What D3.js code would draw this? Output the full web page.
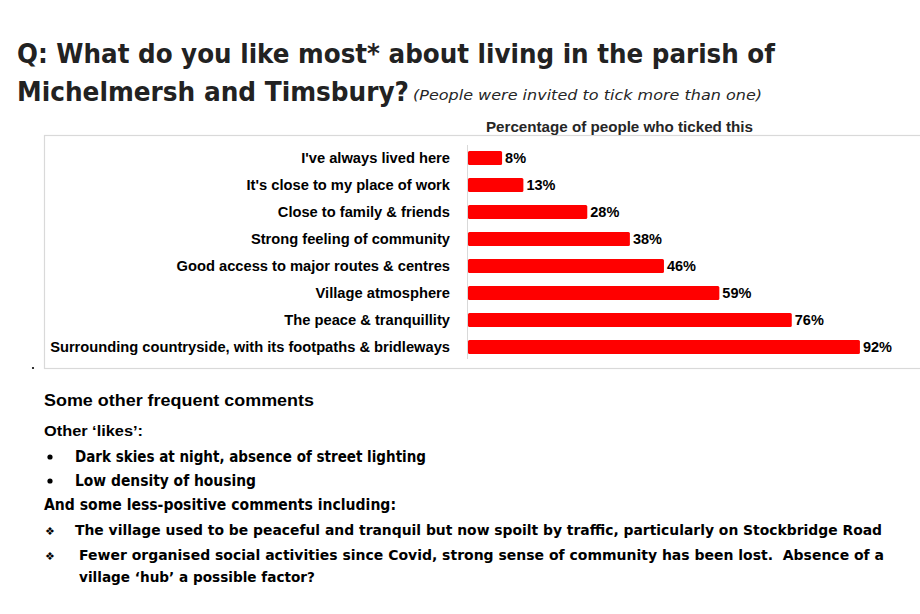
<!DOCTYPE html>
<html>
<head>
<meta charset="utf-8">
<script src="https://cdn.jsdelivr.net/npm/d3@7"></script>
<style>
  body { margin: 0; background: #fff; }
  svg { display: block; }
</style>
</head>
<body>
<svg id="chart" width="920" height="614"></svg>
<script>
// chart data
var categories = [
  "I've always lived here",
  "It's close to my place of work",
  "Close to family & friends",
  "Strong feeling of community",
  "Good access to major routes & centres",
  "Village atmosphere",
  "The peace & tranquillity",
  "Surrounding countryside, with its footpaths & bridleways"
];
var values = [8, 13, 28, 38, 46, 59, 76, 92];

var titleLines = [
  "Q: What do you like most* about living in the parish of",
  "Michelmersh and Timsbury?"
];
var subtitle = "(People were invited to tick more than one)";
var axisTitle = "Percentage of people who ticked this";

var commentHead = "Some other frequent comments";
var likesHead = "Other \u2018likes\u2019:";
var likes = ["Dark skies at night, absence of street lighting", "Low density of housing"];
var negHead = "And some less-positive comments including:";
var negatives = [
  ["The village used to be peaceful and tranquil but now spoilt by traffic, particularly on Stockbridge Road"],
  ["Fewer organised social activities since Covid, strong sense of community has been lost.\u00a0 Absence of a",
   "village \u2018hub\u2019 a possible factor?"]
];

function init() {
  var svg = d3.select('#chart');
  var gothic = "'DejaVu Sans', sans-serif";
  var arial = "'Liberation Sans', Arial, sans-serif";

  // fit a text element to a given width
  function fit(sel, w) {
    sel.attr('textLength', w).attr('lengthAdjust', 'spacingAndGlyphs');
  }

  // title
  var t1 = svg.append('text').attr('x', 17).attr('y', 63)
    .attr('font-family', gothic).attr('font-weight', 'bold').attr('font-size', 27)
    .attr('fill', '#222').text(titleLines[0]);
  fit(t1, 758);
  var t2 = svg.append('text').attr('x', 17).attr('y', 101)
    .attr('font-family', gothic).attr('font-weight', 'bold').attr('font-size', 27)
    .attr('fill', '#222').text(titleLines[1]);
  fit(t2, 392);
  var st = svg.append('text').attr('x', 413).attr('y', 100)
    .attr('font-family', gothic).attr('font-style', 'italic').attr('font-size', 14)
    .attr('fill', '#262626').text(subtitle);
  fit(st, 349);

  // chart frame
  svg.append('rect').attr('x', 44.5).attr('y', 135.5).attr('width', 890).attr('height', 233)
    .attr('fill', 'none').attr('stroke', '#d9d9d9').attr('stroke-width', 1.2);

  var at = svg.append('text').attr('x', 486).attr('y', 132)
    .attr('font-family', arial).attr('font-weight', 'bold').attr('font-size', 14)
    .attr('fill', '#262626').text(axisTitle);
  fit(at, 267);

  var xs = d3.scaleLinear().domain([0, 100]).range([468, 894]);
  var ys = d3.scaleBand().domain(categories).range([144.5, 360.5])
    .paddingInner(0.48).paddingOuter(0.24);

  // axis line
  svg.append('line').attr('x1', 467.5).attr('x2', 467.5).attr('y1', 145).attr('y2', 359)
    .attr('stroke', '#d9d9d9').attr('stroke-width', 1);

  var rows = svg.append('g').selectAll('g').data(categories).enter().append('g');

  rows.append('text')
    .attr('x', 450)
    .attr('y', function(d) { return ys(d) + ys.bandwidth() / 2 + 5; })
    .attr('text-anchor', 'end')
    .attr('font-family', arial).attr('font-weight', 'bold').attr('font-size', 14.7)
    .attr('fill', '#000').text(function(d) { return d; });

  rows.append('rect')
    .attr('x', xs(0))
    .attr('y', function(d) { return ys(d); })
    .attr('width', function(d, i) { return xs(values[i]) - xs(0); })
    .attr('height', ys.bandwidth())
    .attr('rx', 1.5)
    .attr('fill', '#ff0000');

  rows.append('text')
    .attr('x', function(d, i) { return xs(values[i]) + 3; })
    .attr('y', function(d) { return ys(d) + ys.bandwidth() / 2 + 5; })
    .attr('font-family', arial).attr('font-weight', 'bold').attr('font-size', 14.5)
    .attr('fill', '#000').text(function(d, i) { return values[i] + '%'; });

  svg.append('circle').attr('cx', 33).attr('cy', 368).attr('r', 1.1).attr('fill', '#000');

  // comments
  var h1 = svg.append('text').attr('x', 44).attr('y', 406)
    .attr('font-family', arial).attr('font-weight', 'bold').attr('font-size', 16.5)
    .attr('fill', '#000').text(commentHead);
  fit(h1, 270);
  var h2 = svg.append('text').attr('x', 44).attr('y', 436)
    .attr('font-family', arial).attr('font-weight', 'bold').attr('font-size', 14.5)
    .attr('fill', '#000').text(likesHead);
  fit(h2, 99);

  var likeW = [351, 181];
  likes.forEach(function(s, i) {
    var y = 462 + i * 24;
    svg.append('circle').attr('cx', 50).attr('cy', y - 5).attr('r', 2.6).attr('fill', '#000');
    var t = svg.append('text').attr('x', 75).attr('y', y)
      .attr('font-family', gothic).attr('font-weight', 'bold').attr('font-size', 15)
      .attr('fill', '#000').text(s);
    fit(t, likeW[i]);
  });

  var h3 = svg.append('text').attr('x', 44).attr('y', 510)
    .attr('font-family', gothic).attr('font-weight', 'bold').attr('font-size', 15)
    .attr('fill', '#000').text(negHead);
  fit(h3, 352);

  var negX = [75, 79];
  var negY = [535, 560];
  var negW = [[807], [805, 236]];
  negatives.forEach(function(lines, i) {
    svg.append('text').attr('x', 45).attr('y', negY[i])
      .attr('font-family', gothic).attr('font-size', 11).attr('fill', '#000')
      .text('\u2756');
    lines.forEach(function(s, j) {
      var t = svg.append('text').attr('x', negX[i]).attr('y', negY[i] + j * 22)
        .attr('font-family', gothic).attr('font-weight', 'bold').attr('font-size', 14)
        .attr('fill', '#000').text(s);
      fit(t, negW[i][j]);
    });
  });
}

init();
</script>
</body>
</html>
